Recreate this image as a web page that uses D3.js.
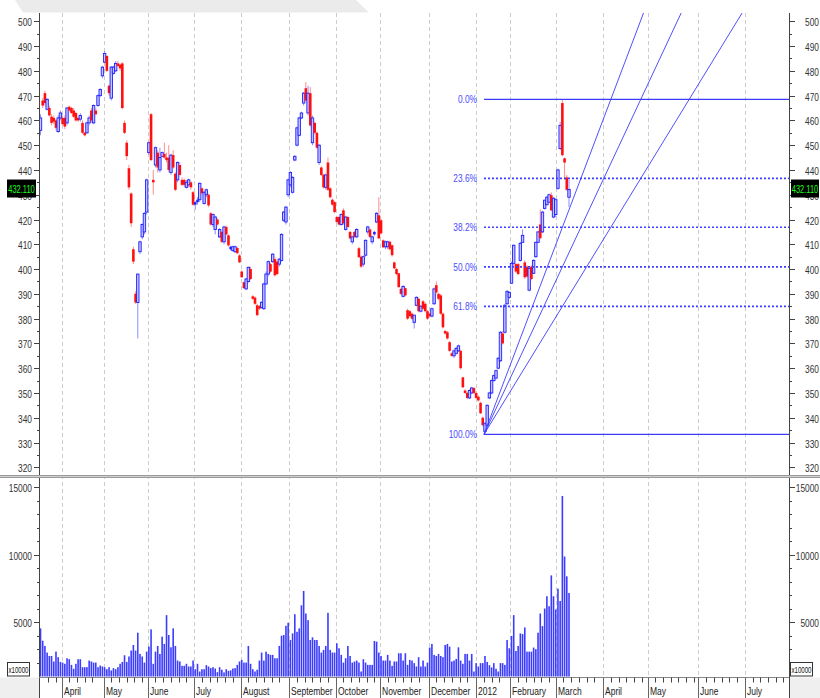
<!DOCTYPE html>
<html><head><meta charset="utf-8">
<script src="https://cdn.jsdelivr.net/npm/d3@7/dist/d3.min.js"></script>
<style>
body{margin:0;background:#fff;}
svg{display:block;font-family:"Liberation Sans",Arial,sans-serif;}
</style></head><body><svg id="c" width="820" height="698"></svg>
<script>
// ---- DATA (trading-day index order) : [open, high, low, close]
const ohlc = [
[456,462.5,454,461],[468,469,465,466],[471,472,466,467],[464.5,469,464,468.5],[465,466,461.5,462],
[461.5,462.5,458,459],[461,462,458.5,459.5],[460,460.5,456,457],[455.5,462,455,461],[461,464,460,463],
[461,462,458,458.5],[461,462,456.5,457.5],[459,465.5,458,465],[465.5,466,463.5,464],[465,465.5,462.5,463],
[464,465,461,461.5],[463,463.5,459.5,460],[461,461.5,459.5,460],[460.5,463,459.5,462],[459,460,454.5,455],
[455,455.5,453.5,454],[455,459.5,454.5,459],[459,462,458,461],[464,465,459,460],[459,466.5,458.5,466],
[464,465,462,462.5],[466,470.5,465.5,470],[470,473,469.5,472.5],[478,482,477,481.5],[483.5,488,483,487],
[486,486.5,479.5,480],[474,474.5,470,471],[469,482,468,481.5],[479,482,478.5,481.5],[480,484,479.5,483],
[483,484,481.5,482],[482.5,483,480,481],[483,483.5,464.5,465],[459,460,454.5,455],[451,452,444,445.6],
[440.7,442,432,433],[430.5,431,417,418.5],[408,409,402,403],[390,391,386,386.5],[386.5,398,372,398],
[407,411.5,406,411],[413,418.5,412,418],[415,423,414,422.5],[423,436.5,422,436],[447,451.5,446,451],
[462.5,463,443.5,444],[436,440,430,435],[442,449.5,441,449],[447,448,439,441],[440,449,439,445],
[445.5,447.5,445,447],[446.5,451,444.5,445],[445,447,443,444],[445,450,439,440],[439,446.5,438,446],
[446,448,440.5,441],[438.5,439,431.5,432],[436,443.5,435,443],[442,443,437.5,438],[436,437,433.5,434],
[436,436.5,433,434],[433,436,432.5,435],[434,436.5,433,436],[435,435.5,432,433],[431,431.5,425.5,426],
[426,427.5,424,427],[427,429,426,428],[428,435,427,434.6],[432.6,433,430,430.6],[426.5,431.5,426,431],
[430,432.5,429,432],[430,430.5,425,425.7],[422.5,423,417.5,418],[418,422.5,417,422],[416,421.5,414,421],
[420,420.5,417.5,418],[413,416.5,412.5,416],[415,415.5,410.5,411],[411,417.5,410,417],[417,417.5,413.5,414],
[413.6,414,409,409.6],[408,409.5,407.5,409],[407.5,409.5,407,409],[407,409.5,406.5,409],[408.5,409,406,406.4],
[405.5,406,402.5,402.7],[399,399.5,396.5,396.7],[394.7,395,392,392.3],[392,396.5,391.5,396],[395,401,394.5,400.7],
[400,401,395.5,396],[389,389.5,387.5,388],[388.5,389,385.5,386],[385.4,386,381,381.4],[385,385.5,383.5,384],
[384.5,387,384,386.6],[384,394.5,383.5,394],[394,399,393.5,398],[398,403.5,397,403],[402,402.5,398.5,399],
[403,406.5,402.5,406],[404,405,397,397.5],[403,403.5,397.5,398],[402,404.5,401,404],[403.5,414.5,403,414],
[419.7,423.5,419,423],[419,425.5,418,425],[430,436.5,429,436],[434,439.5,433,439],[431,437.5,430.5,437],
[444,446,443.5,445.5],[450,457.5,449.5,457],[454,461.5,453.5,461],[461,463.5,460.5,463],[467,471.5,466,471],
[473,475.5,467.5,468],[463,474,462,471],[471,473.5,457.5,458],[451,462,450,461],[459,459.5,454.5,455],
[455,455.5,448.5,449],[443,450.5,442,450],[441,441.5,437.5,438],[438,438.5,432.5,433],[433,438.5,432,438],
[443,445,431.5,432],[432.6,433,428.5,429],[428,428.5,425.5,426],[427,427.5,422.5,423],[421,421.5,418.5,419],
[421,421.5,417.5,418],[418,422.5,417.5,422],[423.7,424.5,418,418.5],[416,421.5,415.5,421],[421,421.5,416.5,417],
[415,415.5,412,412.4],[411,413.5,410,413],[415,415.5,412.5,413],[413,416.5,412.5,416],[408.4,409,404.5,404.8],
[405,405.5,400.5,401],[402,405.5,401,405],[405.6,412,405,411.6],[415,417.5,414,417],[416,416.5,412.5,413],
[411,413.5,410,413],[414,415.5,413.5,415],[419,423,418.5,422.5],[421.7,429,412,412.4],[419.7,420.5,414,414.4],
[411.6,412,408.5,408.8],[409,411.5,408,411],[409,411.5,408,411],[411,411.5,407.5,408],[409.6,410,405,405.6],
[402.7,403,400,400.3],[400,400.5,397.5,398],[398.3,398.5,392.5,392.7],[392,392.5,389.5,390],[389,393.5,388.5,393],
[392.3,392.5,389,389.4],[383.4,384,379.5,380],[383,383.5,380.5,381],[382,382.5,379.5,380],[378.5,381.5,376,381.4],
[385.4,389,385,388.6],[388,388.5,382.5,383],[383,385.5,382.5,385],[387,387.5,383.5,384],[386,386.5,382.5,383],
[383,383.5,379.5,380],[382,382.5,380.5,381],[381,384.5,380.5,384],[386,392.5,385.5,392],[393.5,395,390,390.6],
[390,390.5,387.5,388],[389.4,390,381.5,382],[382,382.5,376,376.5],[375,375.5,373.5,374],[374.5,375,371.5,372],
[370.5,371,366.5,367],[366,366.5,364.5,365],[365,367.5,364,367],[366,368.5,365.5,368],[367,369.5,366.5,369],
[367,367.5,359.5,360],[356.3,356.5,352,352.3],[351,351.5,349.5,350],[350,350.5,347.5,348],[348,351.5,347.5,351],
[350,352.5,349.5,352],[352,352.5,349.5,350],[350,350.5,347.5,348],[348.5,349,346.5,347],[346,346.5,341.5,341.8],
[340,340.5,336.5,337],[334.5,338,333.3,337.8],[337,345.5,336.5,345],[348,350.5,347.5,350],[350,355.5,349.5,355],
[355,357.5,354.5,357],[356,359.5,355.5,359],[360,364.5,359.5,364],[363,375,362.5,374.5],[374,375,369.5,370],
[374.5,386,374,385.4],[386,391.5,385.5,391],[388.6,391,388,390.6],[394.3,403,394,402.3],[402.3,410,401.5,409.6],
[402,402.5,398.5,399],[402,402.5,397.5,398],[403.5,411,403,410.4],[410.8,416,410.5,413.6],[402.7,403.5,396,396.7],
[401,401.5,396.5,397],[391.5,400.5,391,400.3],[401,401.5,395.5,396],[398.3,404,398,403.5],[405,411,404.5,410.8],
[410.8,415.5,410.5,415],[418,424,412,412.5],[415,423.5,414.5,423],[424.5,428,424,427.8],[426,429.5,425.5,429],
[427,430.5,426.5,430],[429.8,431,423.5,423.7],[421,429,420.5,428.6],[422,428.5,421,428],[432.6,440.5,432,440],
[448.7,459.5,448,458],[467,468.5,445.5,446],[444.7,445,436,443],[437,438,431.5,432],[429,436,425,432.11]
];
// volume in units of 10000
const volume = [
4560,3650,3260,2770,2520,2520,2110,2840,2430,2080,2030,1940,
2350,2280,1860,1570,1940,2280,2280,1690,1690,1690,2180,2110,2030,2030,1690,1810,1740,1690,1540,1690,1450,1620,1540,1690,1940,2080,2570,2080,2480,2920,3330,2920,4240,2670,2480,2030,2840,3210,4490,1940,2840,3260,2670,3950,3410,5540,4070,3160,4560,3260,2180,2110,
1790,1790,1940,1740,1740,2180,1540,1940,1370,1540,1540,1840,1740,1620,1690,1590,1320,1690,1500,1300,1540,1420,1450,1590,1620,1860,2110,2230,2030,2030,3260,1940,1540,
1370,1500,2180,2770,2180,2840,2670,2600,2600,2350,2350,3260,4020,4070,4750,4980,3700,4190,5610,4310,4560,6270,7330,5660,5170,3700,3900,3700,3700,3260,2770,2970,3260,5710,2970,2770,2770,3460,3090,2600,2030,2350,3260,2520,2030,2110,2180,2030,1370,2280,2030,1860,1860,1860,3630,3580,2770,2520,2180,2180,2600,2180,1790,2110,2110,
2720,2720,2180,2720,1860,2230,2180,1990,1740,2430,1740,2180,1740,2030,3140,3410,2600,2520,2670,2520,2430,3330,3410,3210,2110,2180,2300,3160,2180,1940,2670,2670,2180,2670,1370,1990,1740,1990,1990,2520,2080,1840,1670,1990,1570,1370,1990,1990,1860,3700,3090,4000,5540,2890,3260,4190,4140,4630,2840,2840,2840,3140,3020,4240,5660,4730,6030,6940,6200,8480,6940,5960,7500,6590,14360,9880,8410,7180
];
const monthLabels = ["April","May","June","July","August","September","October","November","December","2012","February","March","April","May","June","July"];
const monthStart = [9.5,28.5,48.5,69.5,90.5,112.5,133.5,153.5,175.5,197,212.5,233,254.5,274.5,297.5,318.5];
const priceTicks = d3.range(320, 501, 10);
const priceMinor = d3.range(325, 501, 10);
const volTicks = [5000, 10000, 15000];
const volMinor = [2000,3000,4000,6000,7000,8000,9000,11000,12000,13000,14000];
const fibLevels = [0, 0.236, 0.382, 0.5, 0.618, 1];
const fibLabels = ["0.0%","23.6%","38.2%","50.0%","61.8%","100.0%"];
const fanLevels = [0.382, 0.5, 0.618];
const lastPrice = 432.110;
const volUnit = "x10000";

// ---- LAYOUT
const W = 820, H = 698;
const L = 39, R = 789, pTop = 13, pBot = 475, vTop = 478, vBot = 676.5, aBot = 698;
const SX = 0.76; // condensed text
const svg = d3.select("#c");

function txt(g, tx, ty, s, o) {
  o = o || {};
  return g.append("text")
    .attr("transform", `translate(${tx},${ty}) scale(${o.sx || SX},1)`)
    .attr("text-anchor", o.anchor || "start")
    .attr("font-size", o.size || 11)
    .attr("fill", o.fill || "#333")
    .text(s);
}

const x = d3.scaleLinear().domain([0, ohlc.length - 1]).range([40.5, 569]);
const y = d3.scaleLinear().domain([320, 500]).range([467.3, 21.3]);
const yv = d3.scaleLinear().domain([1000, 15000]).range([vBot, 487.3]);

// top gray tab
svg.append("polygon").attr("points", "15,0 356,0 369,12.5 23,12.5").attr("fill", "#ebebeb");

// bottom gray corners
svg.append("rect").attr("x", 0).attr("y", vBot + 1).attr("width", L).attr("height", aBot - vBot).attr("fill", "#efefef");
svg.append("rect").attr("x", R).attr("y", vBot + 1).attr("width", W - R).attr("height", aBot - vBot).attr("fill", "#efefef");

// month gridlines
svg.append("g").selectAll("line").data(monthStart).join("line")
  .attr("x1", d => Math.round(x(d)) + 0.5).attr("x2", d => Math.round(x(d)) + 0.5)
  .attr("y1", pTop).attr("y2", vBot)
  .attr("stroke", "#cccccc").attr("stroke-dasharray", "4,3");

// clip for plot
svg.append("clipPath").attr("id", "pc").append("rect").attr("x", L).attr("y", pTop).attr("width", R - L).attr("height", pBot - pTop);

// ---- candles
const cg = svg.append("g").attr("clip-path", "url(#pc)");
ohlc.forEach((d, i) => {
  const [o, h, l, c] = d;
  const up = c >= o;
  const cx = x(i);
  cg.append("line").attr("x1", cx).attr("x2", cx).attr("y1", y(h)).attr("y2", y(l))
    .attr("stroke", up ? "#8c8cff" : "#ff8c8c").attr("stroke-width", 1);
  const top = y(Math.max(o, c)), bh = Math.max(1.2, Math.abs(y(o) - y(c)));
  if (up) {
    if (bh > 3) {
      cg.append("rect").attr("x", cx - 1.2).attr("y", top).attr("width", 2.4).attr("height", bh)
        .attr("fill", "#c4c4ff").attr("stroke", "#1f1fff").attr("stroke-width", 0.9);
    } else {
      cg.append("rect").attr("x", cx - 1.3).attr("y", top).attr("width", 2.6).attr("height", bh).attr("fill", "#1f1fff");
    }
  } else {
    cg.append("rect").attr("x", cx - 1.3).attr("y", top).attr("width", 2.6).attr("height", bh).attr("fill", "#ff1010");
  }
});

// ---- volume bars
svg.append("g").selectAll("rect").data(volume).join("rect")
  .attr("x", (d, i) => x(i) - 0.8).attr("width", 1.6)
  .attr("y", d => yv(d)).attr("height", d => vBot - yv(d))
  .attr("fill", "#3c3cff");

// ---- Fibonacci retracement + fan
const off = ohlc.length - 60;
let lowIdx = off;
for (let i = off; i < ohlc.length; i++) if (ohlc[i][2] < ohlc[lowIdx][2]) lowIdx = i;
let highIdx = lowIdx;
for (let i = lowIdx; i < ohlc.length; i++) if (ohlc[i][1] > ohlc[highIdx][1]) highIdx = i;
const lowV = ohlc[lowIdx][2], highV = ohlc[highIdx][1], rng = highV - lowV;
const fib = svg.append("g").attr("clip-path", "url(#pc)");
const fx0 = x(lowIdx) - 1;
fibLevels.forEach((f, k) => {
  const yy = y(highV - f * rng);
  const solid = (f === 0 || f === 1);
  fib.append("line").attr("x1", fx0).attr("x2", R).attr("y1", yy).attr("y2", yy)
    .attr("stroke", "#3c3cff").attr("stroke-width", solid ? 1.4 : 1.6)
    .attr("stroke-dasharray", solid ? null : "2,2");
  txt(svg, fx0 - 7, yy + 4, fibLabels[k], {anchor: "end", fill: "#4b4bff"});
});
fanLevels.forEach(f => {
  const x1 = x(highIdx), y1 = y(highV - f * rng), y0 = y(lowV);
  const slope = (y1 - y0) / (x1 - fx0);
  const xEnd = fx0 + (pTop - y0) / slope;
  fib.append("line").attr("x1", fx0).attr("y1", y0).attr("x2", xEnd).attr("y2", pTop)
    .attr("stroke", "#3c3cff").attr("stroke-width", 0.9);
});

// ---- axes
const axCol = "#444", txCol = "#333";
[L, R].forEach(ax => {
  svg.append("line").attr("x1", ax + 0.5).attr("x2", ax + 0.5).attr("y1", pTop).attr("y2", aBot).attr("stroke", axCol);
});
const pt = svg.append("g");
function majorTick(yy, label) {
  pt.append("line").attr("x1", L - 5).attr("x2", L).attr("y1", yy).attr("y2", yy).attr("stroke", axCol);
  pt.append("line").attr("x1", R + 1).attr("x2", R + 6).attr("y1", yy).attr("y2", yy).attr("stroke", axCol);
  txt(pt, 32, yy + 4, label, {anchor: "end", fill: txCol});
  txt(pt, 819, yy + 4, label, {anchor: "end", fill: txCol});
}
function minorTick(yy) {
  pt.append("line").attr("x1", L - 2).attr("x2", L).attr("y1", yy).attr("y2", yy).attr("stroke", axCol);
  pt.append("line").attr("x1", R + 1).attr("x2", R + 3).attr("y1", yy).attr("y2", yy).attr("stroke", axCol);
}
priceTicks.forEach(v => majorTick(Math.round(y(v)) + 0.5, v));
priceMinor.forEach(v => minorTick(Math.round(y(v)) + 0.5));
volTicks.forEach(v => majorTick(Math.round(yv(v)) + 0.5, v));
volMinor.forEach(v => minorTick(Math.round(yv(v)) + 0.5));

// panel separator
svg.append("rect").attr("x", 0).attr("y", pBot).attr("width", W).attr("height", 2.5).attr("fill", "#d0d0d0");
svg.append("line").attr("x1", 0).attr("x2", W).attr("y1", pBot + 0.5).attr("y2", pBot + 0.5).attr("stroke", "#9a9a9a");
svg.append("line").attr("x1", 0).attr("x2", W).attr("y1", pBot + 2.5).attr("y2", pBot + 2.5).attr("stroke", "#9a9a9a");

// bottom time axis
const ta = svg.append("g");
ta.append("line").attr("x1", L).attr("x2", R).attr("y1", vBot + 1).attr("y2", vBot + 1).attr("stroke", "#888");
const bounds = [0].concat(monthStart).concat([338.5]);
for (let m = 0; m < bounds.length - 1; m++) {
  for (let t = bounds[m] + 3.5; t < bounds[m + 1] - 1.5; t += 3.5) {
    const xx = Math.round(x(t)) + 0.5;
    ta.append("line").attr("x1", xx).attr("x2", xx).attr("y1", vBot + 1).attr("y2", vBot + 6).attr("stroke", axCol);
  }
}
monthStart.forEach((m, k) => {
  const xx = Math.round(x(m)) + 0.5;
  ta.append("line").attr("x1", xx).attr("x2", xx).attr("y1", vBot + 1).attr("y2", aBot).attr("stroke", "#666");
  txt(ta, xx + 1.5, 695, monthLabels[k], {size: 11.5, fill: "#222", sx: 0.74});
});

// unit boxes
[7.5, 790.5].forEach(bx => {
  svg.append("rect").attr("x", bx).attr("y", 662.5).attr("width", 22).attr("height", 13.5).attr("fill", "#fff").attr("stroke", "#333");
  txt(svg, bx + 11, 672.5, volUnit, {anchor: "middle", size: 8.5, fill: "#111", sx: 0.72});
});

// last price boxes
[[7, 29], [791, 28]].forEach(([bx, bw]) => {
  const yy = y(lastPrice);
  svg.append("rect").attr("x", bx).attr("y", yy - 10).attr("width", bw).attr("height", 18).attr("fill", "#000");
  txt(svg, bx + bw / 2, yy + 3.5, lastPrice.toFixed(3), {anchor: "middle", size: 11, fill: "#19ff19", sx: 0.68});
});
</script></body></html>
